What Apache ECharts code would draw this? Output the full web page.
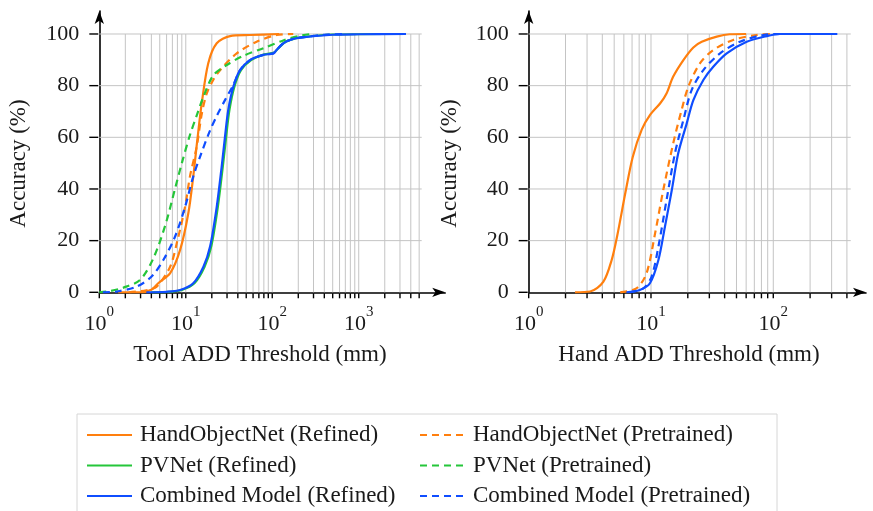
<!DOCTYPE html>
<html>
<head>
<meta charset="utf-8">
<script src="https://cdn.jsdelivr.net/npm/echarts@6/dist/echarts.min.js"></script>
<style>
  html, body { margin: 0; padding: 0; background: #fff; }
  #chart { width: 873px; height: 511px; }
</style>
</head>
<body>
<div id="chart"></div>
<script>
// series names (legend order: refined column, pretrained column)
const refinedNames = ['HandObjectNet (Refined)', 'PVNet (Refined)', 'Combined Model (Refined)'];
const pretrainedNames = ['HandObjectNet (Pretrained)', 'PVNet (Pretrained)', 'Combined Model (Pretrained)'];

// tool ADD threshold (mm) vs accuracy (%)
const toolHonRefined = [[1.65,0],[3,0],[4,1],[4.8,3.5],[6.6,7.4],[8.6,16.4],[10.7,30.6],[12.2,44.8],[13.6,59],[15.3,73.2],[18.2,88.7],[22.8,96.4],[32.5,99.2],[55,99.6],[120,100]];
const toolHonPretrained = [[2.2,0],[3.5,0.8],[4.6,2.2],[6.6,9.9],[8,20],[9.8,33],[11.2,45],[13.4,56.5],[15.3,69],[17.5,77],[21,82.5],[24.9,86],[38.8,92.5],[66,97],[112,99.6],[175,100]];
const toolPvRefined = [[4,0],[6.5,0.2],[9,0.9],[12.6,3.5],[16.5,9.9],[19.7,17.7],[23.5,33.1],[26.8,48.6],[29.3,60.2],[32,70.6],[36.5,79.6],[43.5,86],[57,89.9],[81,92.1],[105,92.8],[114,94],[137,96.6],[165,97.8],[215,98.7],[500,99.8],[2000,100]];
const toolPvPretrained = [[1,0],[1.3,0.4],[1.9,1.8],[2.96,4.8],[4.2,13],[5.8,26],[7.5,40],[9,50],[11.2,61],[13.4,68.5],[16,75.7],[20.8,84],[29.8,88],[46,91.5],[79,94.5],[134,97.5],[200,99.2],[280,100]];
const toolCombRefined = [[3.5,0],[6,0.2],[8.6,0.9],[12.2,3.5],[16,9.9],[19.1,17.7],[22.8,33.1],[26,48.6],[28.4,60.2],[31,70.6],[35.5,79.6],[42.4,86],[55.3,89.9],[78.8,91.9],[103,92.5],[112,93.8],[134,96.4],[160,97.7],[209,98.6],[500,99.7],[1000,99.9],[3520,100]];
const toolCombPretrained = [[1.1,0],[1.6,0.3],[2.7,2.2],[4,6],[5.5,12.5],[7.5,21.5],[9.8,33],[12.2,44.8],[15,53.5],[19,62.5],[23,68.5],[28.4,74.4],[35.5,80.3],[42.4,86],[55,89.9],[79,91.9],[103,92.5],[112,93.8],[134,96.4],[160,97.7],[210,98.6],[400,99.7],[700,100]];

// hand ADD threshold (mm) vs accuracy (%)
const handHonRefined = [[2.39,0],[3.18,0.3],[4.07,4],[4.77,12.5],[5.3,22],[6.2,39],[7.1,52.5],[8.4,63],[9.8,68.6],[11.9,73.2],[13.4,77],[15.2,83.5],[18.4,89.9],[22.2,94.8],[26,97],[34.5,99],[44,99.9],[60,100]];
const handHonPretrained = [[5.6,0],[7.6,1.5],[9.2,7.4],[10.8,22.8],[12.6,39.6],[15.2,57.7],[17.8,70.6],[20.2,79.6],[25.2,88.7],[32.3,93.8],[47,97.7],[73,99.6],[100,100],[150,100]];
const handCombRefined = [[6.3,0],[8.1,0.9],[9.8,3.5],[11.5,12.5],[13,25.4],[14.8,39.6],[16.7,53.8],[19.6,65.4],[22.2,74.4],[26.8,82.2],[32.3,87.3],[41.6,92.5],[60.6,97],[88.3,99.2],[113,100],[334,100]];
const handCombPretrained = [[6.7,0],[8.65,1.5],[10.1,6],[11.5,17.7],[13.4,35.7],[15.7,53.8],[18.4,66.7],[21.5,78.3],[26.8,86],[36.7,92.5],[53.4,97],[82.8,99.6],[120,100]];

// axis ticks
const toolXTicks = [1,2,3,4,5,6,7,8,9,10,20,30,40,50,60,70,80,90,100,200,300,400,500,600,700,800,900,1000,2000,3000,4000,5000];
const handXTicks = [1,2,3,4,5,6,7,8,9,10,20,30,40,50,60,70,80,90,100,200,300,400];
const yTicks = [0,20,40,60,80,100];

const FONT = 'Liberation Serif';
const TEXT = '#1a1a1a';
const GRIDC = '#c4c4c4';
const ORANGE = '#ff7f0e';
const GREEN = '#25c63a';
const BLUE = '#0f4dff';

const chart = echarts.init(document.getElementById('chart'));

function xAxisOf(gi, max, maxLabel) {
  return {
    type: 'log', logBase: 10, gridIndex: gi, min: 1, max: max,
    axisLine: { lineStyle: { color: '#000', width: 1.6 }, symbol: ['none', 'arrow'], symbolSize: [7, 13] },
    axisTick: { show: false },
    splitLine: { show: false },
    axisLabel: {
      margin: 12,
      showMinLabel: true,
      formatter: function (v) {
        const e = Math.round(Math.log10(v));
        if (Math.abs(Math.log10(v) - e) > 1e-6 || v > maxLabel) return '';
        return '{b|10}{s|' + e + '}';
      },
      rich: {
        b: { fontFamily: FONT, fontSize: 22, color: TEXT, lineHeight: 31, verticalAlign: 'bottom' },
        s: { fontFamily: FONT, fontSize: 15, color: TEXT, lineHeight: 15, verticalAlign: 'top' }
      }
    }
  };
}

function yAxisOf(gi) {
  return {
    type: 'value', gridIndex: gi, min: 0, max: 108.9, interval: 20,
    axisLine: { lineStyle: { color: '#000', width: 1.6 }, symbol: ['none', 'arrow'], symbolSize: [7, 13] },
    axisTick: { show: false },
    splitLine: { show: false },
    axisLabel: {
      margin: 20, fontFamily: FONT, fontSize: 22, color: TEXT,
      formatter: function (v) { return v <= 100 ? String(v) : ''; }
    }
  };
}

function vGridSeries(gi, ticks) {
  return {
    type: 'custom', xAxisIndex: gi, yAxisIndex: gi, silent: true, z: 1,
    data: ticks.map(v => [v, 0]),
    renderItem: function (params, api) {
      const v = api.value(0);
      const p0 = api.coord([v, 0]);
      const p1 = api.coord([v, 100]);
      const children = [{
        type: 'line', shape: { x1: p0[0], y1: p0[1] + 1, x2: p0[0], y2: p0[1] + 6 },
        style: { stroke: '#000', lineWidth: 1.4 }
      }];
      if (v > 1) {
        children.push({
          type: 'line', shape: { x1: p0[0], y1: p0[1], x2: p1[0], y2: p1[1] },
          style: { stroke: GRIDC, lineWidth: 1 }
        });
      }
      return { type: 'group', children: children };
    }
  };
}

function hGridSeries(gi, xEnd) {
  return {
    type: 'custom', xAxisIndex: gi, yAxisIndex: gi, silent: true, z: 1,
    data: yTicks.map(v => [1, v]),
    renderItem: function (params, api) {
      const v = api.value(1);
      const p0 = api.coord([1, v]);
      const p1 = api.coord([xEnd, v]);
      const children = [{
        type: 'line', shape: { x1: p0[0] - 10, y1: p0[1], x2: p0[0] - 1, y2: p0[1] },
        style: { stroke: '#000', lineWidth: 1.4 }
      }];
      if (v > 0) {
        children.push({
          type: 'line', shape: { x1: p0[0], y1: p0[1], x2: p1[0], y2: p1[1] },
          style: { stroke: GRIDC, lineWidth: 1 }
        });
      }
      return { type: 'group', children: children };
    }
  };
}

function curve(gi, name, data, color, dashed) {
  return {
    type: 'line', name: name, xAxisIndex: gi, yAxisIndex: gi, data: data,
    showSymbol: false, symbol: 'none', smooth: 0.3, z: 3,
    lineStyle: { color: color, width: 2.2, type: dashed ? [7, 5] : 'solid' },
    itemStyle: { color: color }
  };
}

// one legend box per entry so the two columns line up
const legendRows = [435, 465.5, 496];
function legendOf(name, left, row) {
  return {
    left: left, top: legendRows[row] - 11.5, padding: 0, itemWidth: 45, itemHeight: 14,
    selectedMode: false, data: [name],
    itemStyle: { opacity: 0 },
    textStyle: { fontFamily: FONT, fontSize: 23, color: TEXT, lineHeight: 23, padding: [0, 0, 0, 3] }
  };
}

const option = {
  animation: false,
  backgroundColor: '#fff',
  grid: [
    { left: 99.3, top: 11, width: 345.9, height: 281.3 },
    { left: 528.7, top: 11, width: 337.3, height: 281.3 }
  ],
  xAxis: [xAxisOf(0, 10000, 1000), xAxisOf(1, 573, 100)],
  yAxis: [yAxisOf(0), yAxisOf(1)],
  legend: refinedNames.map((n, i) => legendOf(n, 86, i))
    .concat(pretrainedNames.map((n, i) => legendOf(n, 419, i))),
  graphic: [
    { type: 'rect', z: -1, shape: { x: 77, y: 414, width: 700, height: 110 },
      style: { fill: '#fff', stroke: '#d6d6d6', lineWidth: 1 } },
    { type: 'text', x: 19, y: 163.5, rotation: Math.PI / 2,
      style: { text: 'Accuracy (%)', fontFamily: FONT, fontSize: 23, fill: TEXT, align: 'center', verticalAlign: 'middle' } },
    { type: 'text', x: 450, y: 163.5, rotation: Math.PI / 2,
      style: { text: 'Accuracy (%)', fontFamily: FONT, fontSize: 23, fill: TEXT, align: 'center', verticalAlign: 'middle' } },
    { type: 'text', x: 260, y: 355,
      style: { text: 'Tool ADD Threshold (mm)', fontFamily: FONT, fontSize: 23, fill: TEXT, align: 'center', verticalAlign: 'middle' } },
    { type: 'text', x: 689, y: 355,
      style: { text: 'Hand ADD Threshold (mm)', fontFamily: FONT, fontSize: 23, fill: TEXT, align: 'center', verticalAlign: 'middle' } }
  ],
  series: [
    vGridSeries(0, toolXTicks),
    hGridSeries(0, 5350),
    vGridSeries(1, handXTicks),
    hGridSeries(1, 430),
    curve(0, refinedNames[0], toolHonRefined, ORANGE, false),
    curve(0, pretrainedNames[0], toolHonPretrained, ORANGE, true),
    curve(0, refinedNames[1], toolPvRefined, GREEN, false),
    curve(0, pretrainedNames[1], toolPvPretrained, GREEN, true),
    curve(0, pretrainedNames[2], toolCombPretrained, BLUE, true),
    curve(0, refinedNames[2], toolCombRefined, BLUE, false),
    curve(1, refinedNames[0], handHonRefined, ORANGE, false),
    curve(1, pretrainedNames[0], handHonPretrained, ORANGE, true),
    curve(1, pretrainedNames[2], handCombPretrained, BLUE, true),
    curve(1, refinedNames[2], handCombRefined, BLUE, false)
  ]
};

chart.setOption(option);
</script>
</body>
</html>
